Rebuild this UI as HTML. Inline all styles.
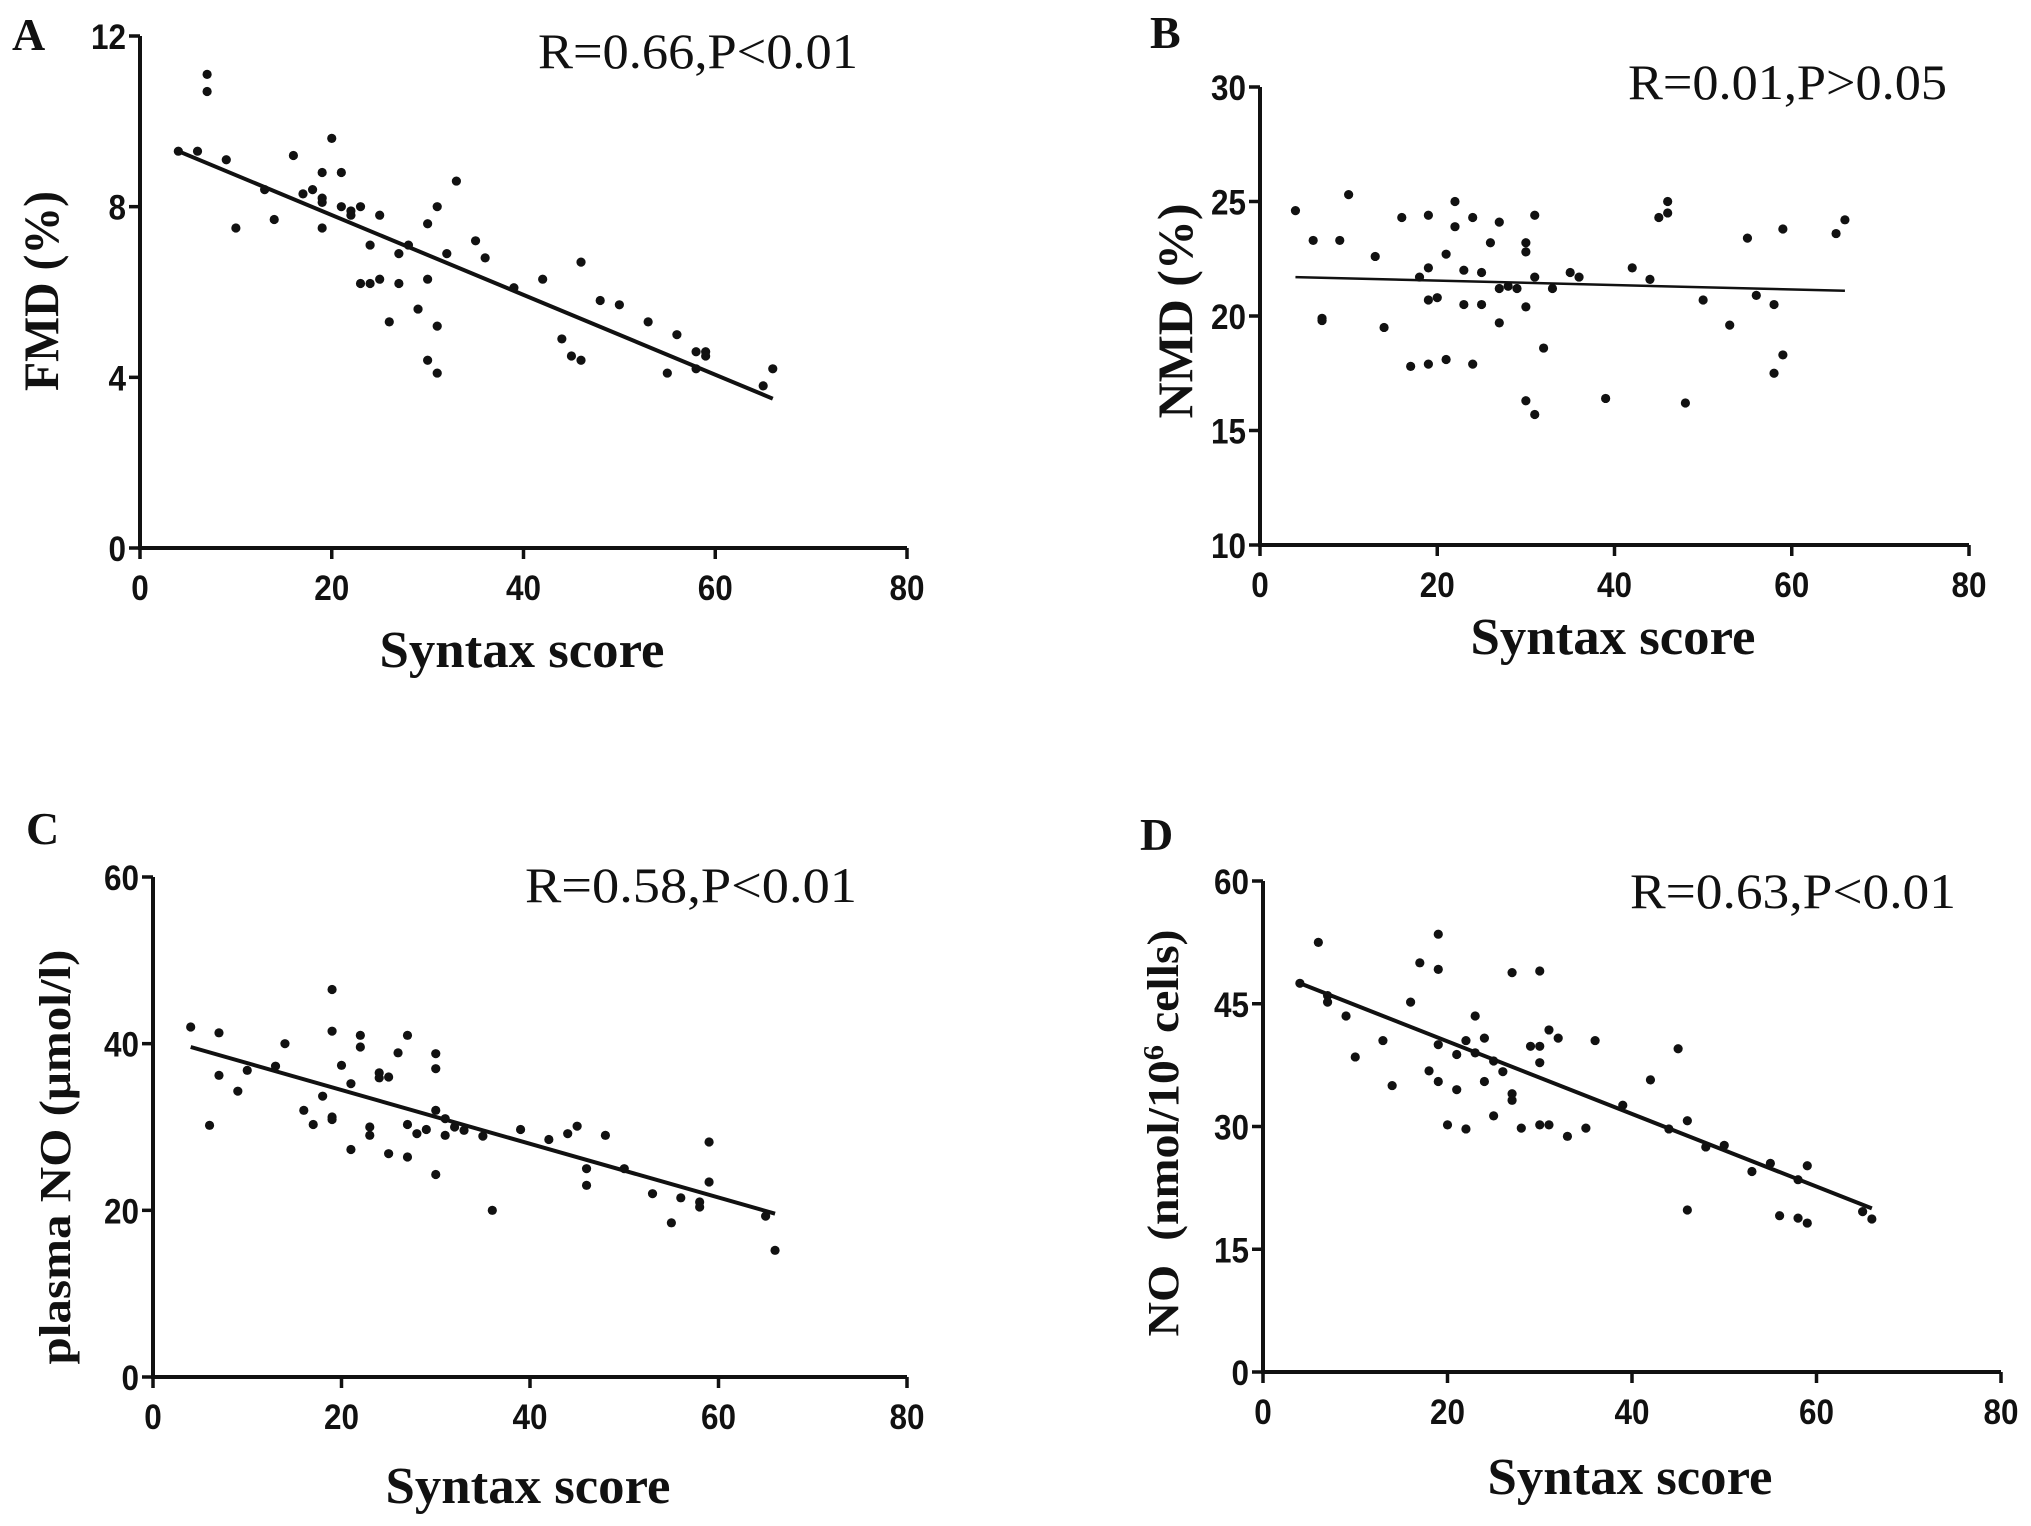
<!DOCTYPE html>
<html><head><meta charset="utf-8"><style>
html,body{margin:0;padding:0;background:#fff;}
svg{display:block;}
.tick{font-family:"Liberation Sans",sans-serif;font-weight:bold;font-size:35px;fill:#111;}
.title{font-family:"Liberation Serif",serif;font-weight:bold;fill:#111;}
.ann{font-family:"Liberation Serif",serif;font-size:50px;fill:#111;}
</style></head><body>
<svg id="fig" width="2031" height="1526" viewBox="0 0 2031 1526" xmlns="http://www.w3.org/2000/svg"></svg>
<script>
const xTicks=[0,20,40,60,80];
const aX=[4,6,7,7,9,10,13,14,16,17,18,19,19,19,19,20,21,21,22,22,23,23,24,24,25,25,26,27,27,28,29,30,30,30,31,31,31,32,33,35,36,39,42,44,45,46,46,48,50,53,55,56,58,58,59,59,65,66];
const aY=[9.3,9.3,11.1,10.7,9.1,7.5,8.4,7.7,9.2,8.3,8.4,8.8,8.2,8.1,7.5,9.6,8.8,8.0,7.9,7.8,8.0,6.2,6.2,7.1,7.8,6.3,5.3,6.2,6.9,7.1,5.6,7.6,6.3,4.4,8.0,5.2,4.1,6.9,8.6,7.2,6.8,6.1,6.3,4.9,4.5,4.4,6.7,5.8,5.7,5.3,4.1,5.0,4.6,4.2,4.6,4.5,3.8,4.2];
const aLine=[[4,9.3],[66,3.5]];
const aTicks=[0,4,8,12];
const bX=[4,6,7,7,9,10,13,14,16,17,18,19,19,19,19,20,21,21,22,22,23,23,24,24,25,25,26,27,27,27,28,29,30,30,30,30,31,31,31,32,33,35,36,39,42,44,45,46,46,48,50,53,55,56,58,58,59,59,65,66];
const bY=[24.6,23.3,19.9,19.8,23.3,25.3,22.6,19.5,24.3,17.8,21.7,24.4,22.1,20.7,17.9,20.8,22.7,18.1,25.0,23.9,22.0,20.5,24.3,17.9,21.9,20.5,23.2,24.1,21.2,19.7,21.3,21.2,23.2,22.8,20.4,16.3,24.4,21.7,15.7,18.6,21.2,21.9,21.7,16.4,22.1,21.6,24.3,24.5,25.0,16.2,20.7,19.6,23.4,20.9,20.5,17.5,23.8,18.3,23.6,24.2];
const bLine=[[4,21.7],[66,21.1]];
const bTicks=[10,15,20,25,30];
const cX=[4,6,7,7,9,10,13,14,16,17,18,19,19,19,19,20,21,21,22,22,23,23,24,24,25,25,26,27,27,27,28,29,30,30,30,30,31,31,32,33,35,36,39,42,44,45,46,46,48,50,53,55,56,58,58,59,59,65,66];
const cY=[42,30.2,41.3,36.2,34.3,36.8,37.3,40,32,30.3,33.7,46.5,41.5,31.2,30.9,37.4,35.2,27.3,41,39.6,30,29,36.5,35.9,36,26.8,38.9,41,30.3,26.4,29.2,29.7,38.8,37,32,24.3,31,29,30,29.6,28.9,20,29.7,28.5,29.2,30.1,25,23,29,25,22,18.5,21.5,21,20.4,28.2,23.4,19.3,15.2];
const cLine=[[4,39.6],[66,19.6]];
const cTicks=[0,20,40,60];
const dX=[4,6,7,7,9,10,13,14,16,17,18,19,19,19,19,20,21,21,22,22,23,23,24,24,25,25,26,27,27,27,28,29,30,30,30,30,31,31,32,33,35,36,39,42,44,45,46,46,48,50,53,55,56,58,58,59,59,65,66];
const dY=[47.5,52.5,46,45.2,43.5,38.5,40.5,35,45.2,50,36.8,53.5,49.2,40,35.5,30.2,38.8,34.5,40.5,29.7,43.5,39,40.8,35.5,31.3,38,36.7,48.8,34,33.2,29.8,39.8,49,39.8,37.8,30.2,41.8,30.2,40.8,28.8,29.8,40.5,32.6,35.7,29.7,39.5,30.7,19.8,27.5,27.7,24.5,25.5,19.1,23.5,18.8,25.2,18.2,19.6,18.7];
const dLine=[[4,47.5],[66,20]];
const dTicks=[0,15,30,45,60];

const NS="http://www.w3.org/2000/svg";
const svg=document.getElementById('fig');
function mk(tag,attrs,parent,text){const e=document.createElementNS(NS,tag);for(const k in attrs)e.setAttribute(k,attrs[k]);if(text!==undefined)e.textContent=text;parent.appendChild(e);return e;}

function panel(cfg){
  const g=mk('g',{},svg);
  
  
  const sx=v=>cfg.x0+(v-0)/80*(cfg.x1-cfg.x0);
  const sy=v=>cfg.y0+(v-cfg.ymin)/(cfg.ymax-cfg.ymin)*(cfg.y1-cfg.y0);
  const ya=mk('line',{x1:cfg.x0,y1:cfg.y0+2,x2:cfg.x0,y2:cfg.y1,stroke:'#111','stroke-width':4},g);
  
  
  const xa=mk('line',{x1:cfg.x0-2,y1:cfg.y0,x2:cfg.x1,y2:cfg.y0,stroke:'#111','stroke-width':4},g);
  
  
  xTicks.forEach(t=>{
    const x=sx(t);
    const s=String(t);
    mk('line',{x1:x,y1:cfg.y0,x2:x,y2:cfg.y0+11,stroke:'#111','stroke-width':3.5},g);
    const l=mk('text',{x:x,y:cfg.y0+52,'text-anchor':'middle',class:'tick',textLength:s.length*17.5,lengthAdjust:'spacingAndGlyphs'},g,s);
    
    
  });
  cfg.yTicks.forEach(t=>{
    const y=sy(t);
    const s=String(t);
    mk('line',{x1:cfg.x0-11,y1:y,x2:cfg.x0,y2:y,stroke:'#111','stroke-width':3.5},g);
    const l=mk('text',{x:cfg.x0-14,y:y+13,'text-anchor':'end',class:'tick',textLength:s.length*17.5,lengthAdjust:'spacingAndGlyphs'},g,s);
    
    
  });
  cfg.xs.forEach((v,i)=>{
    const c=mk('circle',{cx:sx(v),cy:sy(cfg.ys[i]),r:4.6,fill:'#111'},g);
    
    
  });
  const ln=mk('line',{x1:sx(cfg.line[0][0]),y1:sy(cfg.line[0][1]),x2:sx(cfg.line[1][0]),y2:sy(cfg.line[1][1]),stroke:'#111','stroke-width':cfg.lw},g);
  
  
  const xt=mk('text',{x:cfg.xtx,y:cfg.xty,'text-anchor':'middle',class:'title','font-size':52,textLength:285,lengthAdjust:'spacingAndGlyphs'},g,'Syntax score');
  
  
  const yt=mk('text',{x:0,y:0,'text-anchor':'middle',class:'title','font-size':cfg.ytfs,textLength:cfg.ytl,lengthAdjust:'spacingAndGlyphs',transform:`translate(${cfg.ytx},${cfg.yty}) rotate(-90)`},g);
  yt.innerHTML=cfg.ytitle;
  
  
  const an=mk('text',{x:cfg.annx,y:cfg.anny,class:'ann',textLength:cfg.annw,lengthAdjust:'spacingAndGlyphs'},g,cfg.ann);
  
  
  const lt=mk('text',{x:cfg.lx,y:cfg.ly,class:'title','font-size':46},g,cfg.id);
  
  
}
panel({id:'A',x0:140,x1:907,y0:548,y1:36,ymin:0,ymax:12,yTicks:aTicks,xs:aX,ys:aY,line:aLine,lw:4,
  xtx:522,xty:667,ytx:58,yty:291,ytfs:50,ytl:200,ytitle:'FMD (%)',annx:538,anny:68,annw:320,ann:'R=0.66,P<0.01',lx:12,ly:50});
panel({id:'B',x0:1260,x1:1969,y0:545,y1:87,ymin:10,ymax:30,yTicks:bTicks,xs:bX,ys:bY,line:bLine,lw:2.5,
  xtx:1613,xty:654,ytx:1192,yty:311,ytfs:50,ytl:215,ytitle:'NMD (%)',annx:1628,anny:99,annw:319,ann:'R=0.01,P>0.05',lx:1150,ly:48});
panel({id:'C',x0:153,x1:907,y0:1377,y1:877,ymin:0,ymax:60,yTicks:cTicks,xs:cX,ys:cY,line:cLine,lw:4,
  xtx:528,xty:1503,ytx:70,yty:1157,ytfs:44,ytl:415,ytitle:'plasma NO (μmol/l)',annx:525,anny:902,annw:332,ann:'R=0.58,P<0.01',lx:26,ly:844});
panel({id:'D',x0:1263,x1:2001,y0:1372,y1:881,ymin:0,ymax:60,yTicks:dTicks,xs:dX,ys:dY,line:dLine,lw:4,
  xtx:1630,xty:1494,ytx:1178,yty:1133,ytfs:44,ytl:407,ytitle:'NO&#160;&#160;(nmol/10<tspan baseline-shift="super" font-size="28">6</tspan> cells)',annx:1630,anny:908,annw:326,ann:'R=0.63,P<0.01',lx:1140,ly:850});
</script>
</body></html>
